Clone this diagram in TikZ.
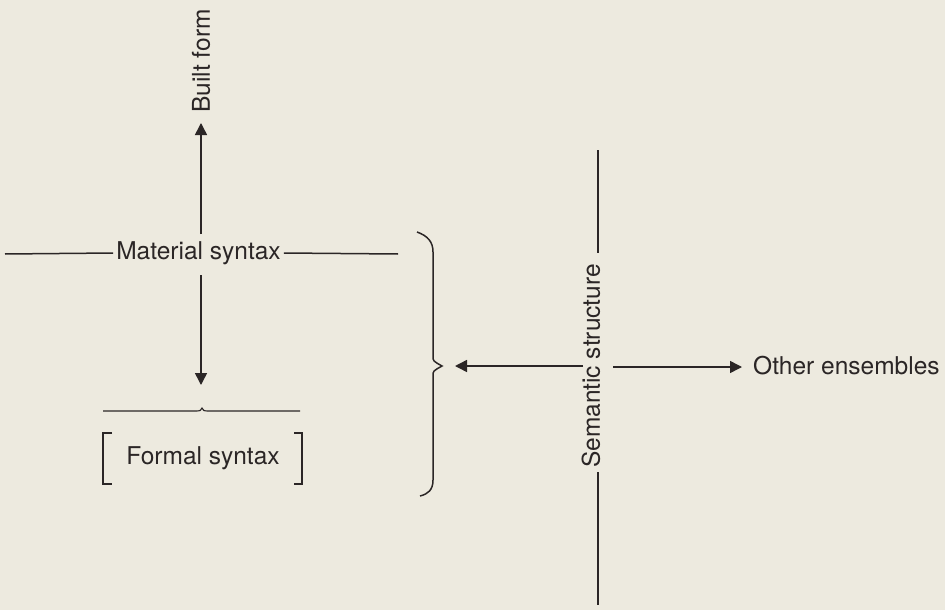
\documentclass[tikz,border=0pt]{standalone}
\usepackage{fontspec}
\setmainfont{TeX Gyre Heros}
\usetikzlibrary{arrows.meta}
\definecolor{bg}{HTML}{EDEADF}
\definecolor{ink}{HTML}{2B2626}
\begin{document}
\begin{tikzpicture}[x=1pt,y=-1pt,
  lbl/.style={inner sep=3pt,text=ink,font=\fontsize{24.5}{28}\selectfont},
  ln/.style={draw=ink,line width=1.5pt},
  arr/.style={ln,-{Triangle[length=12pt,width=12pt]}}]
\fill[bg] (0,0) rectangle (945,610);
\useasboundingbox (0,0) rectangle (945,610);
% labels
\node[lbl,rotate=90] (built) at (201,61) {Built form};
\node[lbl] (mat) at (198.5,253) {Material syntax};
\node[lbl] (formal) at (203,458) {Formal syntax};
\node[lbl,rotate=90] (sem) at (591,366) {Semantic structure};
\node[lbl,anchor=west,inner sep=0pt] (other) at (753,366) {Other ensembles};
% coordinates
\coordinate (upS) at (201,234);
\coordinate (upE) at (201,123);
\coordinate (dnS) at (201,275);
\coordinate (dnE) at (201,385);
\coordinate (mL) at (5,254);
\coordinate (mR) at (398,254);
\coordinate (sT) at (598,150);
\coordinate (sTe) at (598,253);
\coordinate (sB) at (598,472);
\coordinate (sBe) at (598,605);
\coordinate (hL) at (583,366);
\coordinate (hR) at (613,367);
\coordinate (tip) at (442,366);
\coordinate (oth) at (742,367);
% material syntax
\draw[ln] (mL) -- (mat.west);
\draw[ln] (mat.east) -- (mR);
\draw[arr] (upS) -- (upE);
\draw[arr] (dnS) -- (dnE);
% small brace over formal syntax
\draw[ln,line width=1.1pt] (103,411) -- (197,411) .. controls (200,411) .. (202,408) .. controls (204,411) .. (207,411) -- (300,411);
% brackets
\draw[ln,line width=1.3pt] (112,433) -- (103,433) -- (103,484) -- (112,484);
\draw[ln,line width=1.3pt] (294,433) -- (302,433) -- (302,484) -- (294,484);
% big brace
\draw[ln] (417,232) .. controls (428,236) and (433,242) .. (433,252) -- (433,356)
  .. controls (433,361) .. (442,366) .. controls (433,371) .. (433,376) -- (433,480)
  .. controls (433,490) and (428,494) .. (420,496);
% semantic structure
\draw[ln] (sT) -- (sTe);
\draw[ln] (sB) -- (sBe);
\draw[arr] (hL) -- ([xshift=13pt]tip);
\draw[arr] (hR) -- (oth);
\end{tikzpicture}
\end{document}
